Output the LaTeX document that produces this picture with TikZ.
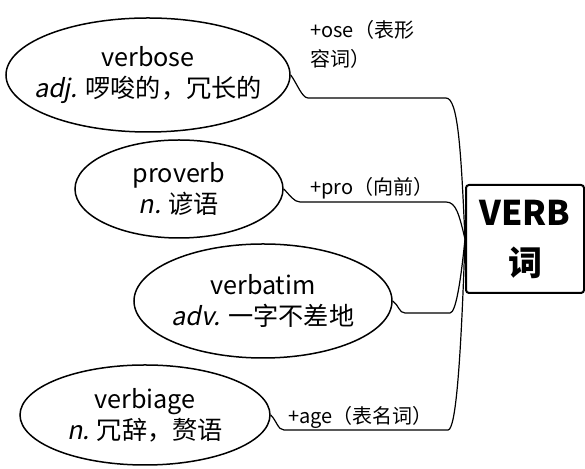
\documentclass[tikz,border=0pt]{standalone}
\usepackage{fontspec}
\setmainfont{Noto Sans CJK SC}[AutoFakeSlant=0.2]
\usetikzlibrary{shapes.geometric}

\begin{document}
\begin{tikzpicture}[x=0.5pt, y=-0.5pt,
    word/.style={ellipse, draw, line width=0.75pt, align=center, inner ysep=0pt,
      inner xsep=-12pt, font=\fontsize{12.6}{15.5}\selectfont},
    root/.style={draw, line width=1pt, rounded corners=1.5pt, align=center,
      minimum width=59pt, minimum height=54pt, font=\fontsize{17}{25}\selectfont\bfseries},
    affix/.style={font=\fontsize{10}{14.5}\selectfont, align=left, inner sep=0pt},
    link/.style={line width=0.6pt}]
  \useasboundingbox (0,0) rectangle (585,469);

  % root word
  \node[root] (verb) at (525,239) {VERB\\词};

  % derived words
  \node[word, minimum width=142pt, minimum height=57pt] (verbose) at (148,75)
    {verbose\\\textit{adj.} 啰唆的，冗长的};
  \node[word, minimum width=104pt, minimum height=49pt] (proverb) at (179,189)
    {proverb\\\textit{n.} 谚语};
  \node[word, minimum width=129pt, minimum height=57pt] (verbatim) at (263,301)
    {verbatim\\\textit{adv.} 一字不差地};
  \node[word, minimum width=125pt, minimum height=50pt] (verbiage) at (145,415)
    {verbiage\\\textit{n.} 冗辞，赘语};

  % connectors
  \coordinate (ose-a) at (308,98);  \coordinate (ose-b) at (446,98);
  \coordinate (pro-a) at (300,202); \coordinate (pro-b) at (446,202);
  \coordinate (tim-a) at (405,313); \coordinate (tim-b) at (450,313);
  \coordinate (age-a) at (284,430); \coordinate (age-b) at (448,430);
  \draw[link] (verbose.east) .. controls +(6,8) and +(-6,0) .. (ose-a) -- (ose-b)
    .. controls +(12,0) and +(-4,-90) .. (verb.west);
  \draw[link] (proverb.east) .. controls +(6,6) and +(-6,0) .. (pro-a) -- (pro-b)
    .. controls +(10,0) and +(-6,-25) .. (verb.west);
  \draw[link] (verbatim.east) .. controls +(6,4) and +(-6,0) .. (tim-a) -- (tim-b)
    .. controls +(6,0) and +(-4,40) .. (verb.west);
  \draw[link] (verbiage.east) .. controls +(6,6) and +(-6,0) .. (age-a) -- (age-b)
    .. controls +(8,0) and +(-4,120) .. (verb.west);

  % affix labels
  \node[affix, anchor=base west] (ose-lbl) at (310,67) {+ose（表形\\容词）};
  \node[affix, anchor=base west] (pro-lbl) at (310,195) {+pro（向前）};
  \node[affix, anchor=base west] (age-lbl) at (288,424) {+age（表名词）};
\end{tikzpicture}
\end{document}
